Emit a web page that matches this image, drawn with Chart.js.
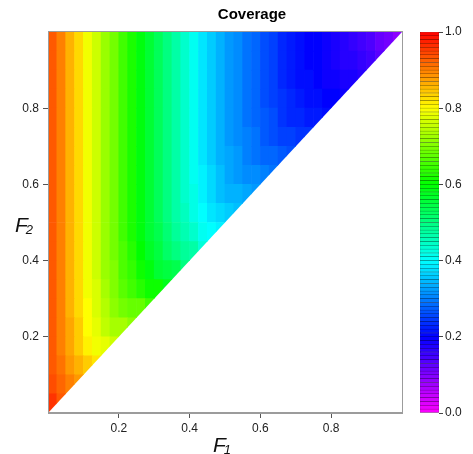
<!DOCTYPE html>
<html lang="en">
<head>
<meta charset="UTF-8">
<title>Coverage</title>
<script src="https://cdn.jsdelivr.net/npm/chart.js"></script>
<style>
  body { margin: 0; background: #fff; }
  #wrap { position: relative; width: 473px; height: 454px; }
  #heat { position: absolute; left: 0; top: 0; }
  #legendBar { position: absolute; left: 400px; top: 0; }
</style>
</head>
<body>
<div id="wrap">
  <canvas id="heat" width="473" height="454"></canvas>
  <canvas id="legendBar" width="73" height="454"></canvas>
</div>

<script>
// F1 column centres (cells 0.025 wide)
const f1Mid = [0.0125, 0.0375, 0.0625, 0.0875, 0.1125, 0.1375, 0.1625, 0.1875, 0.2125, 0.2375,
  0.2625, 0.2875, 0.3125, 0.3375, 0.3625, 0.3875, 0.4125, 0.4375, 0.4625, 0.4875,
  0.5125, 0.5375, 0.5625, 0.5875, 0.6125, 0.6375, 0.6625, 0.6875, 0.7125, 0.7375,
  0.7625, 0.7875, 0.8125, 0.8375, 0.8625, 0.8875, 0.9125, 0.9375, 0.9625, 0.9875];

// F2 bands (rows 0.05 tall)
const f2Lo = [0, 0.05, 0.1, 0.15, 0.2, 0.25, 0.3, 0.35, 0.4, 0.45, 0.5, 0.55, 0.6, 0.65, 0.7, 0.75, 0.8, 0.85, 0.9, 0.95];
const f2Hi = [0.05, 0.1, 0.15, 0.2, 0.25, 0.3, 0.35, 0.4, 0.45, 0.5, 0.55, 0.6, 0.65, 0.7, 0.75, 0.8, 0.85, 0.9, 0.95, 1.0];

// coverage, one row per F2 band (only cells with F2 >= F1)
const coverageRows = [
  [0.96, 0.93],
  [0.94, 0.92, 0.90, 0.88],
  [0.93, 0.91, 0.88, 0.86, 0.84, 0.82],
  [0.93, 0.90, 0.87, 0.84, 0.81, 0.79, 0.78, 0.76],
  [0.93, 0.90, 0.87, 0.84, 0.80, 0.78, 0.75, 0.73, 0.73, 0.71],
  [0.93, 0.90, 0.86, 0.83, 0.80, 0.77, 0.74, 0.71, 0.69, 0.68, 0.68, 0.65],
  [0.93, 0.90, 0.86, 0.83, 0.79, 0.77, 0.73, 0.70, 0.67, 0.65, 0.63, 0.61, 0.61, 0.58],
  [0.93, 0.90, 0.86, 0.83, 0.79, 0.76, 0.72, 0.70, 0.66, 0.64, 0.61, 0.59, 0.56, 0.55, 0.54, 0.50],
  [0.93, 0.90, 0.86, 0.83, 0.79, 0.76, 0.72, 0.69, 0.66, 0.63, 0.60, 0.57, 0.55, 0.52, 0.50, 0.48, 0.47, 0.43],
  [0.93, 0.90, 0.86, 0.83, 0.79, 0.76, 0.72, 0.69, 0.65, 0.62, 0.59, 0.56, 0.54, 0.51, 0.48, 0.46, 0.44, 0.41, 0.40, 0.39],
  [0.93, 0.90, 0.86, 0.83, 0.79, 0.76, 0.72, 0.69, 0.65, 0.62, 0.59, 0.56, 0.53, 0.50, 0.47, 0.45, 0.42, 0.40, 0.38, 0.37, 0.36, 0.35],
  [0.93, 0.90, 0.86, 0.83, 0.79, 0.76, 0.72, 0.69, 0.65, 0.62, 0.59, 0.56, 0.53, 0.50, 0.47, 0.44, 0.42, 0.39, 0.37, 0.35, 0.34, 0.34, 0.33, 0.32],
  [0.93, 0.90, 0.86, 0.83, 0.79, 0.76, 0.72, 0.69, 0.65, 0.62, 0.59, 0.56, 0.53, 0.50, 0.47, 0.44, 0.41, 0.39, 0.37, 0.35, 0.33, 0.32, 0.31, 0.31, 0.30, 0.29],
  [0.93, 0.90, 0.86, 0.83, 0.79, 0.76, 0.72, 0.69, 0.65, 0.62, 0.59, 0.56, 0.53, 0.50, 0.47, 0.44, 0.41, 0.38, 0.36, 0.34, 0.33, 0.32, 0.30, 0.29, 0.28, 0.28, 0.27, 0.26],
  [0.93, 0.90, 0.86, 0.83, 0.79, 0.76, 0.72, 0.69, 0.65, 0.62, 0.59, 0.56, 0.53, 0.50, 0.47, 0.44, 0.41, 0.38, 0.36, 0.34, 0.32, 0.31, 0.30, 0.29, 0.27, 0.26, 0.25, 0.25, 0.24, 0.24],
  [0.93, 0.90, 0.86, 0.83, 0.79, 0.76, 0.72, 0.69, 0.65, 0.62, 0.59, 0.56, 0.53, 0.50, 0.47, 0.44, 0.41, 0.38, 0.36, 0.34, 0.32, 0.31, 0.29, 0.28, 0.27, 0.26, 0.24, 0.23, 0.23, 0.22, 0.22, 0.21],
  [0.93, 0.90, 0.86, 0.83, 0.79, 0.76, 0.72, 0.69, 0.65, 0.62, 0.59, 0.56, 0.53, 0.50, 0.47, 0.44, 0.41, 0.38, 0.36, 0.34, 0.32, 0.31, 0.29, 0.28, 0.26, 0.25, 0.24, 0.23, 0.22, 0.21, 0.21, 0.20, 0.20, 0.19],
  [0.93, 0.90, 0.86, 0.83, 0.79, 0.76, 0.72, 0.69, 0.65, 0.62, 0.59, 0.56, 0.53, 0.50, 0.47, 0.44, 0.41, 0.38, 0.36, 0.34, 0.32, 0.31, 0.29, 0.28, 0.26, 0.25, 0.23, 0.22, 0.21, 0.21, 0.20, 0.19, 0.19, 0.18, 0.18, 0.17],
  [0.93, 0.90, 0.86, 0.83, 0.79, 0.76, 0.72, 0.69, 0.65, 0.62, 0.59, 0.56, 0.53, 0.50, 0.47, 0.44, 0.41, 0.38, 0.36, 0.34, 0.32, 0.31, 0.29, 0.28, 0.26, 0.25, 0.23, 0.22, 0.21, 0.20, 0.20, 0.19, 0.18, 0.17, 0.17, 0.16, 0.15, 0.13],
  [0.93, 0.90, 0.86, 0.83, 0.79, 0.76, 0.72, 0.69, 0.65, 0.62, 0.59, 0.56, 0.53, 0.50, 0.47, 0.44, 0.41, 0.38, 0.36, 0.34, 0.32, 0.31, 0.29, 0.28, 0.26, 0.25, 0.23, 0.22, 0.21, 0.20, 0.20, 0.19, 0.18, 0.17, 0.16, 0.15, 0.14, 0.12, 0.11, 0.09]
];

const axisTicks = [0.2, 0.4, 0.6, 0.8];
const legendTicks = [0, 0.2, 0.4, 0.6, 0.8, 1.0];
const legendSteps = 100;

Chart.defaults.font.family = "'Liberation Sans', Arial, sans-serif";
Chart.defaults.color = '#222';

// R style rainbow: 0 = magenta ... 1 = red
function rainbow(v, light) {
  return 'hsl(' + (300 * (1 - v)).toFixed(1) + ',100%,' + (light || 50) + '%)';
}

const heatSets = coverageRows.map((row, r) => ({
  data: row.map((v, k) => ({ x: f1Mid[k], y: [f2Lo[r], f2Hi[r]] })),
  backgroundColor: row.map(v => rainbow(v)),
  borderWidth: 0
}));

// keep only the F2 >= F1 triangle
const clipTriangle = {
  id: 'clipTriangle',
  beforeDatasetsDraw(chart) {
    const { ctx, scales: { x, y } } = chart;
    ctx.save();
    ctx.beginPath();
    ctx.moveTo(x.getPixelForValue(0), y.getPixelForValue(0));
    ctx.lineTo(x.getPixelForValue(0), y.getPixelForValue(1));
    ctx.lineTo(x.getPixelForValue(1), y.getPixelForValue(1));
    ctx.closePath();
    ctx.clip();
  },
  afterDatasetsDraw(chart) {
    chart.ctx.restore();
  }
};

function drawLabel(ctx, main, sub, x, y) {
  ctx.font = 'italic 21px "Liberation Sans", Arial';
  ctx.fillText(main, x, y);
  const w = ctx.measureText(main).width;
  ctx.font = 'italic 13px "Liberation Sans", Arial';
  ctx.fillText(sub, x + w - 2, y + 2);
}

const frameAndText = {
  id: 'frameAndText',
  afterDraw(chart) {
    const { ctx, chartArea: a } = chart;
    ctx.save();
    ctx.strokeStyle = '#9c9c9c';
    ctx.lineWidth = 1;
    ctx.strokeRect(Math.round(a.left) + 0.5, Math.round(a.top) - 0.5, Math.round(a.right - a.left), Math.round(a.bottom - a.top));
    ctx.fillStyle = '#000';
    ctx.textAlign = 'center';
    ctx.textBaseline = 'alphabetic';
    ctx.font = 'bold 15px "Liberation Sans", Arial';
    ctx.fillText('Coverage', 252, 19);
    ctx.textAlign = 'left';
    ctx.fillStyle = '#111';
    drawLabel(ctx, 'F', '2', 15, 232);
    drawLabel(ctx, 'F', '1', 213, 452);
    ctx.restore();
  }
};

const tickStyle = { font: { size: 12 }, color: '#222', maxRotation: 0, callback: v => v.toFixed(1) };
const gridStyle = { drawOnChartArea: false, tickLength: 5, color: '#555' };

new Chart(document.getElementById('heat'), {
  type: 'bar',
  data: { datasets: heatSets },
  options: {
    responsive: false,
    animation: false,
    devicePixelRatio: 1,
    layout: { padding: { top: 32, right: 71, left: 0, bottom: 0 } },
    datasets: { bar: { grouped: false, barPercentage: 1, categoryPercentage: 1 } },
    plugins: { legend: { display: false }, tooltip: { enabled: false } },
    scales: {
      x: {
        type: 'linear', min: 0, max: 1, offset: false,
        afterBuildTicks: s => { s.ticks = axisTicks.map(v => ({ value: v })); },
        afterFit: s => { s.height = 41; },
        ticks: Object.assign({ padding: 3 }, tickStyle),
        grid: Object.assign({ offset: false }, gridStyle),
        border: { color: '#9c9c9c' }
      },
      y: {
        type: 'linear', min: 0, max: 1,
        afterBuildTicks: s => { s.ticks = axisTicks.map(v => ({ value: v })); },
        afterFit: s => { s.width = 48; },
        ticks: Object.assign({ padding: 4 }, tickStyle),
        grid: gridStyle,
        border: { color: '#9c9c9c' }
      }
    }
  },
  plugins: [clipTriangle, frameAndText]
});

// colour key: stacked thin bands from 0 to 1
const legendSets = [];
for (let i = 0; i < legendSteps; i++) {
  const mid = (i + 0.5) / legendSteps;
  legendSets.push({
    data: [[i / legendSteps, (i + 1) / legendSteps]],
    backgroundColor: rainbow(mid),
    borderColor: rainbow(mid, 22),
    borderWidth: 0.5,
    borderSkipped: false
  });
}

new Chart(document.getElementById('legendBar'), {
  type: 'bar',
  data: { labels: ['key'], datasets: legendSets },
  options: {
    responsive: false,
    animation: false,
    devicePixelRatio: 1,
    layout: { padding: { top: 32, bottom: 41, left: 20, right: 0 } },
    datasets: { bar: { grouped: false, barPercentage: 1, categoryPercentage: 1 } },
    plugins: { legend: { display: false }, tooltip: { enabled: false } },
    scales: {
      x: { display: false },
      y: {
        position: 'right', min: 0, max: 1,
        afterBuildTicks: s => { s.ticks = legendTicks.map(v => ({ value: v })); },
        afterFit: s => { s.width = 34; },
        ticks: Object.assign({ padding: 2 }, tickStyle),
        grid: { drawOnChartArea: false, tickLength: 4, color: '#444' },
        border: { display: false }
      }
    }
  }
});
</script>
</body>
</html>
